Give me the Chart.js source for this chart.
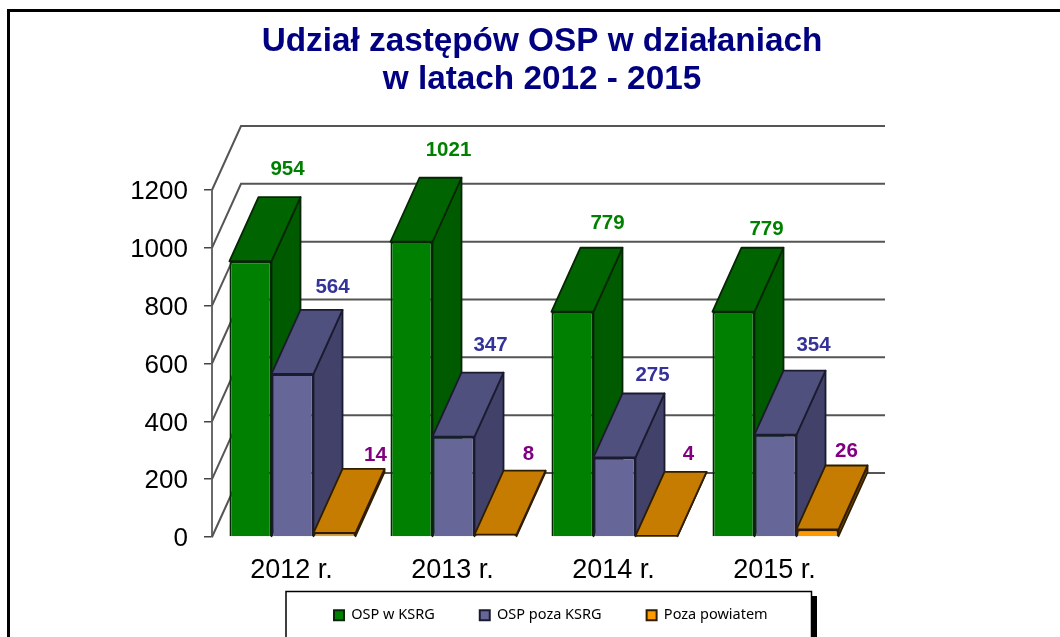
<!DOCTYPE html>
<html lang="pl">
<head>
<meta charset="utf-8">
<style>
html,body{margin:0;padding:0;background:#fff;overflow:hidden}
#wrap{width:1060px;height:637px;position:relative}
canvas{display:block}
</style>
<script src="https://cdn.jsdelivr.net/npm/chart.js@4/dist/chart.umd.min.js"></script>
</head>
<body>
<div id="wrap"><canvas id="c" width="1060" height="637"></canvas></div>
<script>
const categories = ['2012 r.', '2013 r.', '2014 r.', '2015 r.'];
const ospKsrg = [954, 1021, 779, 779];
const ospPozaKsrg = [564, 347, 275, 354];
const pozaPowiatem = [14, 8, 4, 26];
const seriesNames = ['OSP w KSRG', 'OSP poza KSRG', 'Poza powiatem'];
const titleLines = ['Udział zastępów OSP w działaniach', 'w latach 2012 - 2015'];

const DEPTH = {dx: 29, dy: 64};
const FONT = '"Liberation Sans", Arial, sans-serif';
const looks = [
  {front:'#008000', top:'#006400', side:'#005a00', edge:'#062606', text:'#008000', labelDx:37, labelDy:-94},
  {front:'#666699', top:'#50507e', side:'#414169', edge:'#1b1b30', text:'#333399', labelDx:38, labelDy:-90},
  {front:'#ff9900', top:'#c67c00', side:'#6b4500', edge:'#2e1d00', text:'#800080', labelDx:32, labelDy:-80}
];
/* small per-label nudges [series][category] => [dx, dy] */
const nudges = [
  [[0,2],[0,3],[-2,6],[-4,12]],
  [[2,3],[-1,-1],[0,8],[0,1]],
  [[9,2],[1,0],[0,-1],[-3,2]]
];

function poly(ctx, pts, fill, stroke){
  ctx.beginPath();
  pts.forEach((p,i)=> i?ctx.lineTo(p[0],p[1]):ctx.moveTo(p[0],p[1]));
  ctx.closePath();
  ctx.fillStyle = fill; ctx.fill();
  ctx.strokeStyle = stroke; ctx.lineWidth = 1.8; ctx.lineJoin='round'; ctx.stroke();
}

const box3d = {
  id:'box3d',
  beforeDraw(chart){
    const ctx = chart.ctx, H = chart.height, W = chart.width;
    ctx.save();
    ctx.fillStyle='#fff'; ctx.fillRect(0,0,W,H);
    /* outer frame: top and left edges only */
    ctx.fillStyle='#000';
    ctx.fillRect(7,9,W-7,3);
    ctx.fillRect(7,9,3,H-9);
    /* legend frame with its shadow */
    ctx.fillRect(811,596,6,H-596);
    ctx.fillStyle='#fff'; ctx.fillRect(286,591,525,H-591);
    ctx.strokeStyle='#000'; ctx.lineWidth=1.5;
    ctx.beginPath();
    ctx.moveTo(286,H); ctx.lineTo(286,591.5); ctx.lineTo(811.5,591.5); ctx.lineTo(811.5,H);
    ctx.stroke();
    ctx.restore();
  },
  beforeDatasetsDraw(chart){
    const ctx = chart.ctx, y = chart.scales.y, a = chart.chartArea;
    ctx.save();
    ctx.strokeStyle='#555'; ctx.lineWidth=2;
    y.ticks.forEach(t=>{
      const py = y.getPixelForValue(t.value);
      ctx.beginPath();
      ctx.moveTo(a.left,py);
      ctx.lineTo(a.left+DEPTH.dx,py-DEPTH.dy);
      ctx.lineTo(a.right+DEPTH.dx,py-DEPTH.dy);
      ctx.stroke();
    });
    ctx.restore();
  },
  /* painter's order: series 0 first, so each later box overlaps the earlier one */
  beforeDatasetDraw(){ return false; },
  afterDatasetsDraw(chart){
    const ctx = chart.ctx;
    chart.data.datasets.forEach((ds,i)=>{
      const meta = chart.getDatasetMeta(i), look = looks[i];
      ctx.save();
      meta.data.forEach(b=>{
        const p = b.getProps(['x','y','base','width'],true);
        const l = p.x-p.width/2, r = p.x+p.width/2;
        poly(ctx,[[r,p.y],[r+DEPTH.dx,p.y-DEPTH.dy],[r+DEPTH.dx,p.base-DEPTH.dy],[r,p.base]],look.side,look.edge);
        poly(ctx,[[l,p.y],[l+DEPTH.dx,p.y-DEPTH.dy],[r+DEPTH.dx,p.y-DEPTH.dy],[r,p.y]],look.top,look.edge);
      });
      ctx.restore();
      meta.controller.draw();
    });
    ctx.save();
    ctx.font = 'bold 20.5px '+FONT;
    ctx.textAlign='center'; ctx.textBaseline='middle';
    chart.data.datasets.forEach((ds,i)=>{
      const meta = chart.getDatasetMeta(i), look = looks[i];
      ctx.fillStyle = look.text;
      meta.data.forEach((b,j)=>{
        const n = nudges[i][j];
        ctx.fillText(String(ds.data[j]), b.x+look.labelDx+n[0], b.y+look.labelDy+n[1]);
      });
    });
    ctx.restore();
  },
  afterLayout(chart){
    const t = chart.titleBlock;
    t.left = 0; t.right = 1084;
    const lg = chart.legend;
    lg.left = 0; lg.right = 2*334 + lg.lineWidths[0] - lg.options.labels.padding;
    lg.top = 563;
  }
};

new Chart(document.getElementById('c'),{
  type:'bar',
  data:{
    labels:categories,
    datasets:[ospKsrg,ospPozaKsrg,pozaPowiatem].map((values,i)=>({
      label:seriesNames[i],
      data:values,
      backgroundColor:looks[i].front,
      borderColor:looks[i].edge,
      borderWidth:2,
      categoryPercentage:0.783,
      barPercentage:1
    }))
  },
  options:{
    responsive:false,
    animation:false,
    events:[],
    layout:{padding:{top:21,left:0,right:204,bottom:0}},
    plugins:{
      tooltip:{enabled:false},
      title:{
        display:true,
        text:titleLines,
        color:'#000080',
        font:{family:FONT,size:33.3,weight:'bold',lineHeight:1.141},
        padding:{top:2,bottom:91}
      },
      legend:{
        position:'bottom',
        maxHeight:46,
        labels:{
          boxWidth:10,boxHeight:10,padding:45,
          color:'#000',
          font:{family:'"Noto Sans", sans-serif',size:14.5}
        }
      }
    },
    scales:{
      x:{
        grid:{display:false},
        border:{display:false},
        ticks:{color:'#000',font:{family:FONT,size:27},padding:9,maxRotation:0,labelOffset:-1},
        afterFit(s){s.height=54;}
      },
      y:{
        min:0,max:1200,
        grid:{drawOnChartArea:false,drawTicks:true,tickLength:8,color:'#444',lineWidth:1.5},
        border:{display:true,color:'#6a6a6a',width:2},
        ticks:{stepSize:200,color:'#000',font:{family:FONT,size:26},padding:16,labelOffset:2,callback:v=>String(v)},
        afterFit(s){s.width=212;}
      }
    }
  },
  plugins:[box3d]
});
</script>
</body>
</html>
